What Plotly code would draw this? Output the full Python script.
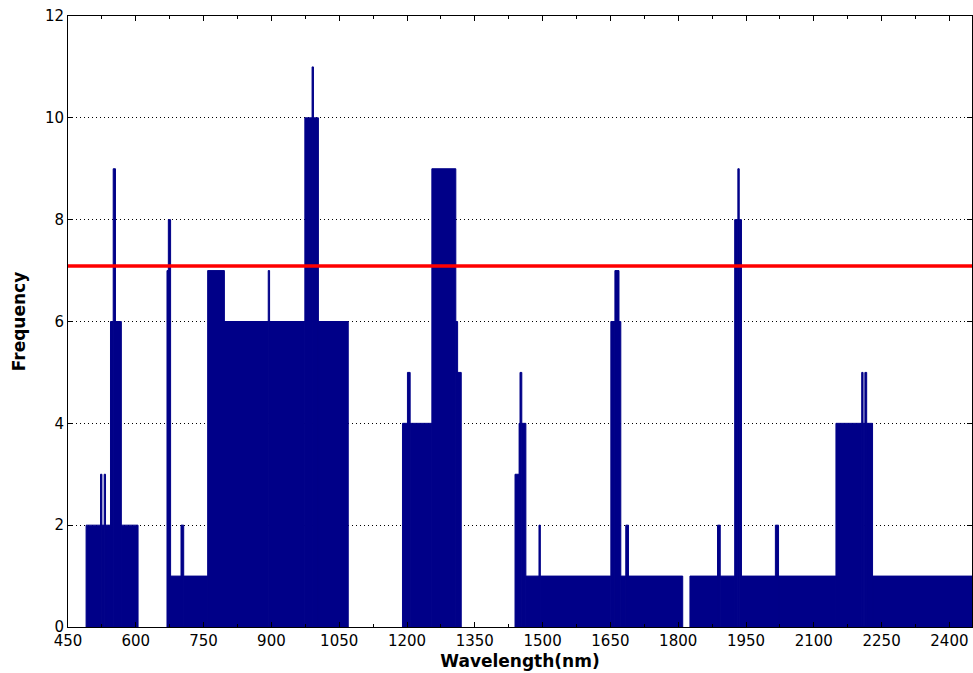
import plotly.graph_objects as go

# Segments of constant frequency (wavelength start, end in nm) and frequency values
seg_start = [490, 522, 525, 530, 533, 544, 550, 555, 568,
             669, 672, 677, 700, 706, 759, 796, 893, 896, 974, 990, 993, 1004,
             1190, 1201, 1207, 1255, 1308, 1312,
             1439, 1448, 1450, 1454, 1463, 1492, 1495, 1651, 1660, 1669, 1673, 1684, 1690,
             1826, 1887, 1893, 1925, 1932, 1935, 1940, 2015, 2022, 2149, 2206, 2209, 2213, 2217, 2230]
seg_end = [522, 525, 530, 533, 544, 550, 555, 568, 605,
           672, 677, 700, 706, 759, 796, 893, 896, 974, 990, 993, 1004, 1070,
           1201, 1207, 1255, 1308, 1312, 1320,
           1448, 1450, 1454, 1463, 1492, 1495, 1651, 1660, 1669, 1673, 1684, 1690, 1810,
           1887, 1893, 1925, 1932, 1935, 1940, 2015, 2022, 2149, 2206, 2209, 2213, 2217, 2230, 2450]
frequency = [2, 3, 2, 3, 2, 6, 9, 6, 2,
             7, 8, 1, 2, 1, 7, 6, 7, 6, 10, 11, 10, 6,
             4, 5, 4, 9, 6, 5,
             3, 4, 5, 4, 1, 2, 1, 6, 7, 6, 1, 2, 1,
             1, 2, 1, 8, 9, 8, 1, 2, 1, 4, 5, 4, 5, 4, 1]

threshold = 7.09
x_range = [450, 2450]
y_range = [0, 12]
x_ticks = [450, 600, 750, 900, 1050, 1200, 1350, 1500, 1650, 1800, 1950, 2100, 2250, 2400]
y_ticks = [0, 2, 4, 6, 8, 10, 12]

widths = [e - s for s, e in zip(seg_start, seg_end)]

fig = go.Figure()
fig.add_trace(go.Bar(
    x=seg_start, y=frequency, width=widths, offset=0,
    marker=dict(color="#000088", line=dict(width=1, color="#000088")),
    showlegend=False, hoverinfo="skip",
))

fig.add_shape(type="line", xref="paper", x0=0, x1=1, yref="y", y0=threshold, y1=threshold,
              line=dict(color="#FF0000", width=3.5), layer="above")

tick_font = "DejaVu Sans, Liberation Sans, Arial, sans-serif"
title_font = "DejaVu Sans, Liberation Sans, Arial, sans-serif"
fig.update_layout(
    width=973, height=673,
    margin=dict(l=68, r=1, t=16, b=46),
    paper_bgcolor="white", plot_bgcolor="white",
    barmode="overlay",
    font=dict(family=tick_font, size=14, color="black"),
    xaxis=dict(
        range=x_range, tickvals=x_ticks, ticktext=[str(v) for v in x_ticks],
        ticks="inside", ticklen=5, tickcolor="black",
        showline=True, linecolor="black", linewidth=1, mirror="ticks",
        showgrid=False, zeroline=False, automargin=False,
        tickfont=dict(size=15, family=tick_font),
        minor=dict(dtick=75, tick0=450, ticks="inside", ticklen=3, tickcolor="black", showgrid=False),
        title=dict(text="<b>Wavelength(nm)</b>", font=dict(size=17, family=title_font), standoff=6),
    ),
    yaxis=dict(
        range=y_range, tickvals=y_ticks, ticktext=[str(v) for v in y_ticks],
        ticks="inside", ticklen=5, tickcolor="black",
        showline=True, linecolor="black", linewidth=1, mirror="ticks",
        showgrid=True, gridcolor="black", gridwidth=1, griddash="1px,3px",
        zeroline=False, automargin=False,
        tickfont=dict(size=15, family=tick_font),
        title=dict(text="<b>Frequency</b>", font=dict(size=17, family=title_font), standoff=14),
    ),
)

# remove the default 8px page margin so the figure fills the 973x673 window exactly
fig.write_html("out.html", config={"displayModeBar": False},
               post_script="document.body.style.margin='0';")
